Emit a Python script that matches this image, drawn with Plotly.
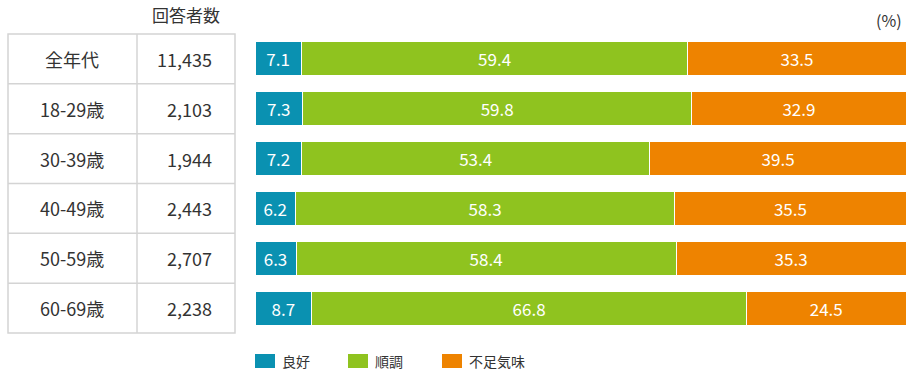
import plotly.graph_objects as go

categories = ["全年代", "18-29歳", "30-39歳", "40-49歳", "50-59歳", "60-69歳"]
respondents = ["11,435", "2,103", "1,944", "2,443", "2,707", "2,238"]
good = [7.1, 7.3, 7.2, 6.2, 6.3, 8.7]
steady = [59.4, 59.8, 53.4, 58.3, 58.4, 66.8]
short = [33.5, 32.9, 39.5, 35.5, 35.3, 24.5]
series_names = ["良好", "順調", "不足気味"]
colors = ["#0a91b1", "#8fc31f", "#ee8300"]

W, H = 915, 376
FONT = "Noto Sans CJK JP"
TXT = "#333333"
GRID = "#d4d4d4"

def px(x):
    return x / W

def py(y):
    return 1 - y / H

fig = go.Figure()
for name, vals, col in zip(series_names, [good, steady, short], colors):
    fig.add_trace(go.Bar(
        y=categories, x=vals, name=name, orientation="h",
        marker=dict(color=col, line=dict(color="white", width=1)),
        text=[f"{v:.1f}" for v in vals], textposition="inside",
        insidetextanchor="middle", textangle=0,
        textfont=dict(color="white", size=17, family=FONT),
        width=0.68, hoverinfo="skip", showlegend=False,
    ))

table_top, table_bot = 34, 333
table_l, table_mid, table_r = 8, 137, 235

shapes = []
shapes.append(dict(type="rect", xref="paper", yref="paper",
                   x0=px(table_l), x1=px(table_r), y0=py(table_bot), y1=py(table_top),
                   line=dict(color=GRID, width=1.5)))
shapes.append(dict(type="line", xref="paper", yref="paper",
                   x0=px(table_mid), x1=px(table_mid), y0=py(table_bot), y1=py(table_top),
                   line=dict(color=GRID, width=1.5)))
for i in range(1, len(categories)):
    shapes.append(dict(type="line", xref="paper", yref="y",
                       x0=px(table_l), x1=px(table_r), y0=i - 0.5, y1=i - 0.5,
                       line=dict(color=GRID, width=1.5)))

annotations = []
for cat, cnt in zip(categories, respondents):
    annotations.append(dict(xref="paper", yref="y", x=px(72), y=cat, text=cat,
                            showarrow=False, xanchor="center",
                            font=dict(size=18, color=TXT, family=FONT)))
    annotations.append(dict(xref="paper", yref="y", x=px(214), y=cat, text=cnt,
                            showarrow=False, xanchor="right",
                            font=dict(size=18, color=TXT, family=FONT)))
annotations.append(dict(xref="paper", yref="paper", x=px(186), y=py(15), text="回答者数",
                        showarrow=False, xanchor="center", yanchor="middle",
                        font=dict(size=17, color=TXT, family=FONT)))
annotations.append(dict(xref="paper", yref="paper", x=px(904), y=py(20), text="(%)",
                        showarrow=False, xanchor="right", yanchor="middle",
                        font=dict(size=16, color=TXT, family=FONT)))

# legend drawn as swatches + labels
legend_x = [255, 348, 442]
for lx, name, col in zip(legend_x, series_names, colors):
    shapes.append(dict(type="rect", xref="paper", yref="paper",
                       x0=px(lx), x1=px(lx + 20), y0=py(368), y1=py(354),
                       fillcolor=col, line=dict(width=0)))
    annotations.append(dict(xref="paper", yref="paper", x=px(lx + 25), y=py(361), text=name,
                            showarrow=False, xanchor="left", yanchor="middle",
                            font=dict(size=14, color=TXT, family=FONT)))

fig.update_layout(
    width=W, height=H,
    margin=dict(l=0, r=0, t=0, b=0),
    paper_bgcolor="white", plot_bgcolor="white",
    barmode="stack",
    xaxis=dict(domain=[px(255), px(906)], range=[0, 100], visible=False, fixedrange=True),
    yaxis=dict(domain=[py(table_bot), py(table_top)], range=[len(categories) - 0.5, -0.5],
               autorange=False, visible=False, fixedrange=True),
    shapes=shapes,
    annotations=annotations,
    showlegend=False,
    font=dict(family=FONT, color=TXT),
)

fig.write_html("out.html",
               config={"displayModeBar": False, "staticPlot": True},
               post_script="document.body.style.margin='0';document.body.style.overflow='hidden';")
